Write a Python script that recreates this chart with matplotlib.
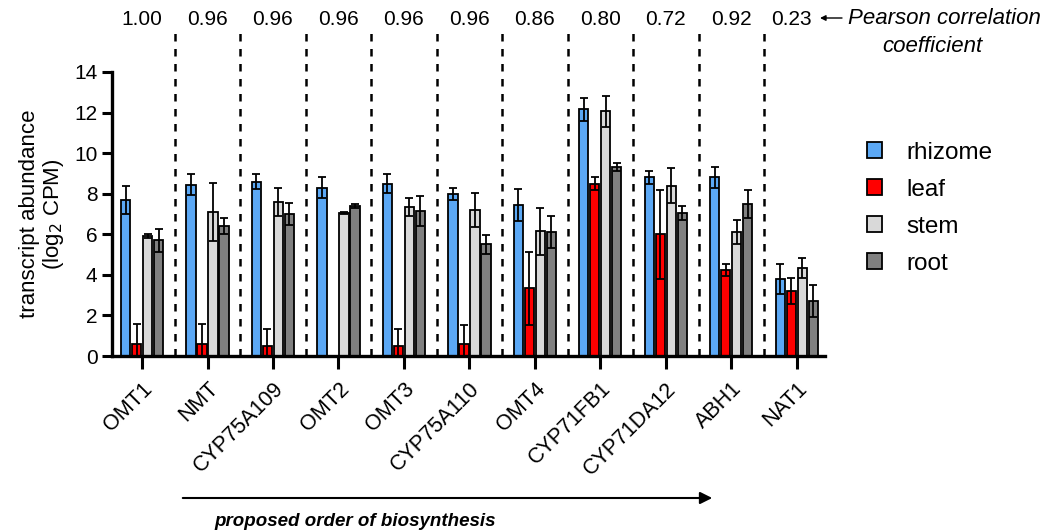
import numpy as np
import matplotlib.pyplot as plt

plt.rcParams['font.family'] = ['Liberation Sans', 'DejaVu Sans']

genes = ["OMT1", "NMT", "CYP75A109", "OMT2", "OMT3", "CYP75A110", "OMT4",
         "CYP71FB1", "CYP71DA12", "ABH1", "NAT1"]
pearson = ["1.00", "0.96", "0.96", "0.96", "0.96", "0.96", "0.86",
           "0.80", "0.72", "0.92", "0.23"]
tissues = ["rhizome", "leaf", "stem", "root"]
colors = ["#5BA8F5", "#FF0000", "#D9D9D9", "#808080"]

rhizome = [7.7, 8.45, 8.6, 8.3, 8.5, 8.0, 7.45, 12.15, 8.8, 8.8, 3.8]
rhizome_err = [0.7, 0.5, 0.35, 0.5, 0.45, 0.3, 0.8, 0.55, 0.3, 0.5, 0.75]
leaf = [0.6, 0.6, 0.5, 0.0, 0.5, 0.6, 3.35, 8.5, 6.0, 4.25, 3.2]
leaf_err = [1.0, 1.0, 0.85, 0.0, 0.85, 0.95, 1.8, 0.3, 2.2, 0.3, 0.65]
stem = [5.9, 7.1, 7.6, 7.05, 7.35, 7.2, 6.15, 12.05, 8.4, 6.1, 4.35]
stem_err = [0.1, 1.45, 0.7, 0.05, 0.45, 0.85, 1.15, 0.75, 0.85, 0.6, 0.5]
root = [5.7, 6.4, 7.0, 7.4, 7.15, 5.5, 6.1, 9.3, 7.05, 7.5, 2.7]
root_err = [0.55, 0.4, 0.55, 0.1, 0.75, 0.45, 0.8, 0.2, 0.35, 0.7, 0.8]

values = [rhizome, leaf, stem, root]
errors = [rhizome_err, leaf_err, stem_err, root_err]

fig = plt.figure(figsize=(10.5, 5.32), dpi=100)
ax = fig.add_axes([0.1067, 0.3308, 0.679, 0.534])

x = np.arange(len(genes))
step = 0.168
width = 0.14
for k in range(4):
    xs = x + (k - 1.5) * step
    ax.bar(xs, values[k], width, color=colors[k], edgecolor="black",
           linewidth=1.3, label=tissues[k], zorder=2)
    ax.errorbar(xs, values[k], yerr=errors[k], fmt="none", ecolor="black",
                elinewidth=1.3, capsize=3, capthick=1.3, zorder=3)

# dashed separators and correlation values
for i in range(len(genes) - 1):
    ax.plot([i + 0.5, i + 0.5], [0, 16.15], color="black", lw=1.8,
            ls=(0, (3, 3)), clip_on=False, zorder=1)
for i, p in enumerate(pearson):
    ax.text(i - (0.08 if i == len(genes) - 1 else 0), 16.6, p,
            ha="center", va="center", fontsize=15, clip_on=False)

def fx(px):
    return px / 1050

def fy(py):
    return 1 - py / 532

ax.annotate("", xy=(fx(820), fy(18)), xytext=(fx(842), fy(18)),
            xycoords="figure fraction", textcoords="figure fraction",
            arrowprops=dict(arrowstyle="-|>", lw=1.0, color="black",
                            mutation_scale=8, shrinkA=0, shrinkB=0))
fig.text(fx(848), fy(18), "Pearson correlation", ha="left", va="center",
         fontsize=16, style="italic")
fig.text(fx(932), fy(46), "coefficient", ha="center", va="center",
         fontsize=16, style="italic")

ax.set_xlim(-0.458, 10.43)
ax.set_ylim(0, 14)
ax.set_yticks(range(0, 15, 2))
ax.set_xticks(x)
ax.set_xticklabels(genes, rotation=45, ha="right", rotation_mode="anchor",
                   fontsize=15.5)
ax.tick_params(axis="y", labelsize=15, width=2.2, length=7)
ax.tick_params(axis="x", width=2.2, length=9, pad=7)
for s in ["top", "right"]:
    ax.spines[s].set_visible(False)
for s in ["left", "bottom"]:
    ax.spines[s].set_linewidth(2.4)
ax.set_ylabel("transcript abundance\n(log$_2$ CPM)", fontsize=16,
              linespacing=1.05, labelpad=6)

ax.legend(loc="center left", bbox_to_anchor=(1.028, 0.52), frameon=False,
          fontsize=17.5, handlelength=0.62, handleheight=0.62,
          handletextpad=1.0, labelspacing=0.62)

ax.annotate("", xy=(fx(715), fy(498)), xytext=(fx(180), fy(498)),
            xycoords="figure fraction", textcoords="figure fraction",
            arrowprops=dict(arrowstyle="-|>", lw=1.5, color="black",
                            mutation_scale=18))
fig.text(fx(355), fy(521), "proposed order of biosynthesis",
         ha="center", va="center", fontsize=13.5, weight="bold", style="italic")

fig.savefig("out.png", dpi=100)
